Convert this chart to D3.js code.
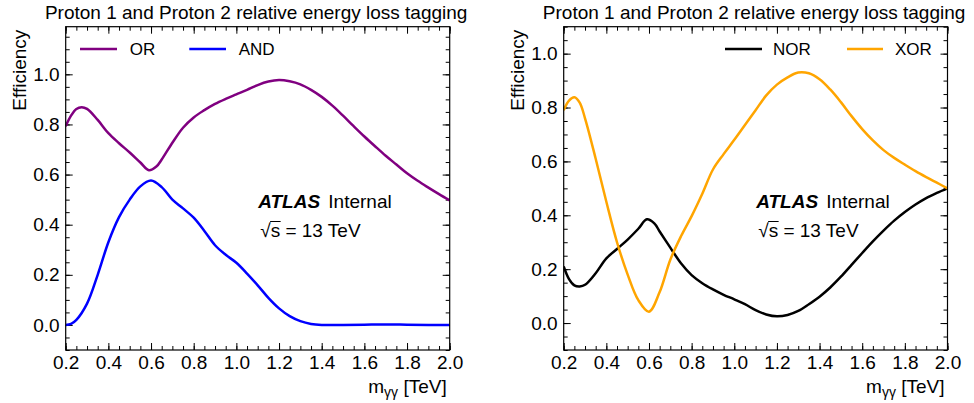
<!DOCTYPE html>
<html>
<head>
<meta charset="utf-8">
<script src="https://cdn.jsdelivr.net/npm/d3@7"></script>
<style>
  html, body { margin: 0; padding: 0; background: #ffffff; }
  svg { display: block; }
  text { font-family: "Liberation Sans", Arial, Helvetica, sans-serif; fill: #000; }
</style>
</head>
<body>
<svg id="chart" width="974" height="403"></svg>
<script>
// ---------------- data ----------------
const chartTitle = "Proton 1 and Proton 2 relative energy loss tagging";
const xTickValues = [0.2, 0.4, 0.6, 0.8, 1.0, 1.2, 1.4, 1.6, 1.8, 2.0];
const yTickValues = [0.0, 0.2, 0.4, 0.6, 0.8, 1.0];

const orMass  = [0.2,0.225,0.25,0.275,0.3,0.35,0.4,0.45,0.5,0.55,0.59,0.625,0.65,0.7,0.75,0.8,0.85,0.9,0.95,1.0,1.05,1.1,1.15,1.2,1.25,1.3,1.35,1.4,1.45,1.5,1.55,1.6,1.65,1.7,1.75,1.8,1.85,1.9,1.95,2.0];
const orEff   = [0.793,0.835,0.862,0.869,0.862,0.818,0.765,0.725,0.688,0.648,0.617,0.632,0.66,0.727,0.787,0.828,0.857,0.882,0.902,0.92,0.938,0.957,0.971,0.977,0.972,0.96,0.938,0.91,0.875,0.835,0.793,0.752,0.713,0.675,0.64,0.605,0.575,0.548,0.522,0.497];

const andMass = [0.2,0.225,0.25,0.3,0.35,0.4,0.45,0.5,0.55,0.6,0.65,0.7,0.75,0.8,0.85,0.9,0.95,1.0,1.05,1.1,1.15,1.2,1.25,1.3,1.35,1.4,1.5,1.6,1.7,1.8,1.9,2.0];
const andEff  = [0.0,0.004,0.02,0.085,0.2,0.33,0.43,0.5,0.553,0.576,0.55,0.5,0.465,0.428,0.375,0.318,0.28,0.248,0.205,0.158,0.108,0.066,0.035,0.015,0.004,0.0,0.0,0.001,0.002,0.001,0.0,0.0];

const norMass = [0.2,0.225,0.25,0.275,0.3,0.35,0.4,0.45,0.5,0.55,0.59,0.625,0.65,0.7,0.75,0.8,0.85,0.9,0.95,1.0,1.05,1.1,1.15,1.2,1.25,1.3,1.35,1.4,1.45,1.5,1.55,1.6,1.65,1.7,1.75,1.8,1.85,1.9,1.95,2.0];
const norEff  = [0.21,0.163,0.14,0.136,0.142,0.185,0.24,0.275,0.31,0.35,0.385,0.37,0.34,0.28,0.222,0.178,0.148,0.125,0.105,0.088,0.07,0.048,0.032,0.025,0.03,0.045,0.07,0.098,0.132,0.172,0.216,0.26,0.303,0.343,0.38,0.412,0.44,0.464,0.483,0.5];

const xorMass = [0.2,0.225,0.25,0.275,0.3,0.35,0.4,0.45,0.5,0.55,0.6,0.65,0.7,0.75,0.8,0.85,0.9,0.95,1.0,1.05,1.1,1.15,1.2,1.25,1.3,1.35,1.4,1.45,1.5,1.55,1.6,1.65,1.7,1.75,1.8,1.85,1.9,1.95,2.0];
const xorEff  = [0.79,0.826,0.838,0.818,0.76,0.61,0.45,0.3,0.18,0.085,0.042,0.115,0.235,0.322,0.397,0.48,0.57,0.627,0.68,0.735,0.79,0.845,0.885,0.912,0.93,0.927,0.905,0.867,0.82,0.768,0.72,0.678,0.642,0.613,0.588,0.564,0.542,0.521,0.5];

// ---------------- layout ----------------
const svg = d3.select("#chart");
const FONT = 19;
const LEGEND_FONT = 17;

const panels = [
  { left: 65.7, right: 449.7, top: 26.7, bottom: 350, yMax: 1.19,
    series: [
      { name: "OR",  color: "#800080", mass: orMass,  eff: orEff },
      { name: "AND", color: "#0000ff", mass: andMass, eff: andEff }
    ],
    legend: [ { line: [14.3, 51.3], text: 64.0 }, { line: [123.6, 160.3], text: 173 } ]
  },
  { left: 563.7, right: 947.5, top: 26.7, bottom: 350, yMax: 1.1,
    series: [
      { name: "NOR", color: "#000000", mass: norMass, eff: norEff },
      { name: "XOR", color: "#ffa500", mass: xorMass, eff: xorEff }
    ],
    legend: [ { line: [161.3, 198.3], text: 209.3 }, { line: [283.3, 319.3], text: 331.3 } ]
  }
];

panels.forEach(p => {
  const w = p.right - p.left, h = p.bottom - p.top;
  const x = d3.scaleLinear().domain([0.2, 2.0]).range([0, w]);
  const y = d3.scaleLinear().domain([-0.1, p.yMax]).range([h, 0]);
  const g = svg.append("g").attr("transform", `translate(${p.left},${p.top})`);

  const xMinor = d3.range(0.2, 2.0001, 0.05);
  const yMinor = d3.range(-0.1, p.yMax + 0.0001, 0.05);

  const styleAxis = sel => {
    sel.select(".domain").remove();
    sel.selectAll("line").attr("stroke", "#000").attr("stroke-width", 1);
    sel.selectAll("text").style("font-size", FONT + "px")
       .style("font-family", '"Liberation Sans", Arial, sans-serif');
  };

  // major axes
  g.append("g").attr("transform", `translate(0,${h})`)
    .call(d3.axisBottom(x).tickValues(xTickValues).tickSize(-7).tickPadding(6).tickFormat(d3.format(".1f")))
    .call(styleAxis);
  g.append("g")
    .call(d3.axisLeft(y).tickValues(yTickValues).tickSize(-7).tickPadding(6).tickFormat(d3.format(".1f")))
    .call(styleAxis);
  g.append("g")
    .call(d3.axisTop(x).tickValues(xTickValues).tickSize(-7).tickFormat(""))
    .call(styleAxis);
  g.append("g").attr("transform", `translate(${w},0)`)
    .call(d3.axisRight(y).tickValues(yTickValues).tickSize(-7).tickFormat(""))
    .call(styleAxis);
  // minor axes
  g.append("g").attr("transform", `translate(0,${h})`)
    .call(d3.axisBottom(x).tickValues(xMinor).tickSize(-4).tickFormat("")).call(styleAxis);
  g.append("g")
    .call(d3.axisTop(x).tickValues(xMinor).tickSize(-4).tickFormat("")).call(styleAxis);
  g.append("g")
    .call(d3.axisLeft(y).tickValues(yMinor).tickSize(-4).tickFormat("")).call(styleAxis);
  g.append("g").attr("transform", `translate(${w},0)`)
    .call(d3.axisRight(y).tickValues(yMinor).tickSize(-4).tickFormat("")).call(styleAxis);

  // curves
  const clipId = "clip" + Math.round(p.left);
  g.append("clipPath").attr("id", clipId).append("rect").attr("width", w).attr("height", h);
  const line = d3.line().x(d => x(d[0])).y(d => y(d[1])).curve(d3.curveCatmullRom.alpha(0.5));
  p.series.forEach(s => {
    g.append("path")
      .datum(s.mass.map((m, i) => [m, s.eff[i]]))
      .attr("clip-path", `url(#${clipId})`)
      .attr("fill", "none").attr("stroke", s.color).attr("stroke-width", 2.5)
      .attr("stroke-linejoin", "round")
      .attr("d", line);
  });

  // frame
  g.append("rect").attr("width", w).attr("height", h)
    .attr("fill", "none").attr("stroke", "#000").attr("stroke-width", 1.2);

  // legend
  p.series.forEach((s, i) => {
    const L = p.legend[i];
    g.append("line").attr("x1", L.line[0]).attr("x2", L.line[1])
      .attr("y1", 22.3).attr("y2", 22.3)
      .attr("stroke", s.color).attr("stroke-width", 2.5);
    g.append("text").attr("x", L.text).attr("y", 28.4)
      .style("font-size", LEGEND_FONT + "px").text(s.name);
  });

  // ATLAS label
  g.append("text").attr("x", 192.5).attr("y", 181.6)
    .style("font-size", "19px").style("font-weight", "bold").style("font-style", "italic")
    .text("ATLAS");
  g.append("text").attr("x", 262.6).attr("y", 181.6)
    .style("font-size", "19px").text("Internal");
  const rt = g.append("text").attr("x", 194.5).attr("y", 210)
    .style("font-size", "19px");
  rt.append("tspan").text("\u221A");
  rt.append("tspan").text("s");
  rt.append("tspan").text(" = 13 TeV");
  // overline over the s
  const node = rt.node();
  const sx = node.getStartPositionOfChar(1).x;
  const ex = node.getEndPositionOfChar(1).x;
  g.append("line").attr("x1", sx - 0.5).attr("x2", ex + 0.5)
    .attr("y1", 210 - 15.2).attr("y2", 210 - 15.2)
    .attr("stroke", "#000").attr("stroke-width", 1);

  // title
  svg.append("text").attr("x", (p.left + p.right) / 2 - 1.5).attr("y", 19.3)
    .attr("text-anchor", "middle").style("font-size", FONT + "px").text(chartTitle);

  // y axis label
  svg.append("text")
    .attr("transform", `translate(${p.left - 39.7},${p.top + 3}) rotate(-90)`)
    .attr("text-anchor", "end").style("font-size", FONT + "px").text("Efficiency");

  // x axis label
  const xl = svg.append("text").attr("x", p.right - 3).attr("y", 392.5)
    .attr("text-anchor", "end").style("font-size", FONT + "px");
  xl.append("tspan").text("m");
  xl.append("tspan").attr("dy", 4).style("font-size", "14px").text("\u03B3\u03B3");
  xl.append("tspan").attr("dy", -4).text(" [TeV]");
});
</script>
</body>
</html>
